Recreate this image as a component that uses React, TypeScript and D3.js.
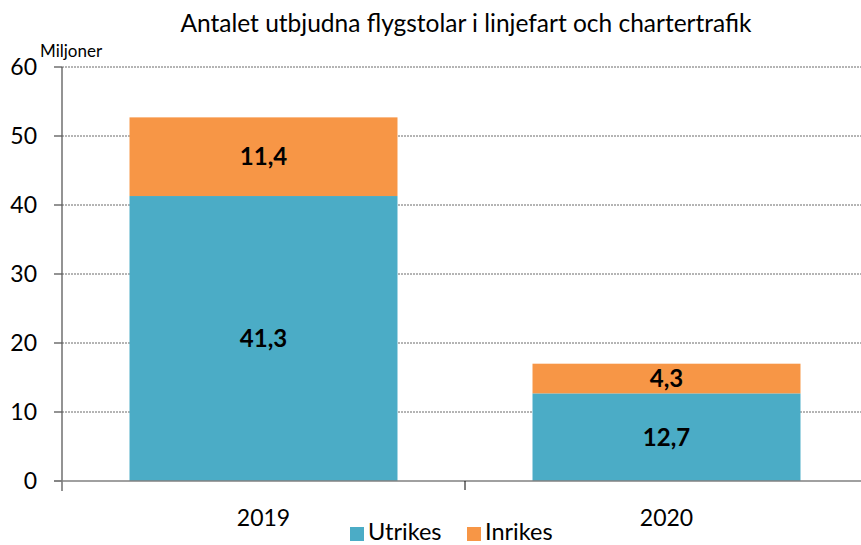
import React from "react";
import * as d3 from "d3";

const categories = ["2019", "2020"];
const utrikes = [41.3, 12.7];
const inrikes = [11.4, 4.3];
const seriesNames = ["Utrikes", "Inrikes"];
const seriesColors = ["#4BACC6", "#F79646"];
const yTicks = [0, 10, 20, 30, 40, 50, 60];
const fmt = (v: number) => v.toFixed(1).replace(".", ",");

export default function App() {
  const W = 861, H = 545;
  const left = 62, right = 868, top = 67, bottom = 481;
  const font = "Lato, 'Open Sans', sans-serif";
  const x = d3.scaleBand<string>().domain(categories).range([left, right]).paddingInner(0).paddingOuter(0);
  const y = d3.scaleLinear().domain([0, 60]).range([bottom, top]);
  const barW = x.bandwidth() * 0.665;
  const stack = d3.stack<any>().keys(seriesNames)(
    categories.map((c, i) => ({ cat: c, Utrikes: utrikes[i], Inrikes: inrikes[i] }))
  );
  return (
    <svg width={W} height={H} style={{ position: "absolute", left: 0, top: 0, background: "#fff" }}>
      <text x={466} y={32} textAnchor="middle" fontFamily={font} fontSize={24.5} fill="#000">
        Antalet utbjudna flygstolar i linjefart och chartertrafik
      </text>
      <text x={40} y={57} fontFamily={font} fontSize={17} fill="#000">Miljoner</text>
      {yTicks.filter(t => t > 0).map(t => (
        <line key={"g" + t} x1={left} x2={W} y1={y(t)} y2={y(t)} stroke="#6b6b6b" strokeWidth={1} strokeDasharray="2,1" />
      ))}
      {stack.map((s, si) =>
        s.map((d, i) => {
          const cx = x(categories[i])! + x.bandwidth() / 2;
          return (
            <g key={si + "-" + i}>
              <rect x={cx - barW / 2} width={barW} y={y(d[1])} height={y(d[0]) - y(d[1])} fill={seriesColors[si]} />
              <text x={cx} y={(y(d[0]) + y(d[1])) / 2 + 8.5} textAnchor="middle" fontFamily={font} fontWeight="bold" fontSize={24} fill="#000">
                {fmt(d[1] - d[0])}
              </text>
            </g>
          );
        })
      )}
      <line x1={left} x2={left} y1={top} y2={bottom + 10} stroke="#595959" strokeWidth={1.3} />
      {yTicks.map(t => (
        <g key={"t" + t}>
          <line x1={left - 8} x2={left} y1={y(t)} y2={y(t)} stroke="#595959" strokeWidth={1.3} />
          <text x={37} y={y(t) + 8} textAnchor="end" fontFamily={font} fontSize={23} fill="#000">{t}</text>
        </g>
      ))}
      <line x1={left - 8} x2={W} y1={bottom} y2={bottom} stroke="#808080" strokeWidth={1.5} />
      <line x1={465} x2={465} y1={bottom} y2={bottom + 9} stroke="#000" strokeWidth={1} />
      {categories.map(c => (
        <text key={c} x={x(c)! + x.bandwidth() / 2} y={526} textAnchor="middle" fontFamily={font} fontSize={23} fill="#000">{c}</text>
      ))}
      {seriesNames.map((n, i) => {
        const lx = [350, 467][i];
        return (
          <g key={n}>
            <rect x={lx} y={527} width={14} height={14} fill={seriesColors[i]} />
            <text x={lx + 18} y={540} fontFamily={font} fontSize={23.5} fill="#000">{n}</text>
          </g>
        );
      })}
    </svg>
  );
}
